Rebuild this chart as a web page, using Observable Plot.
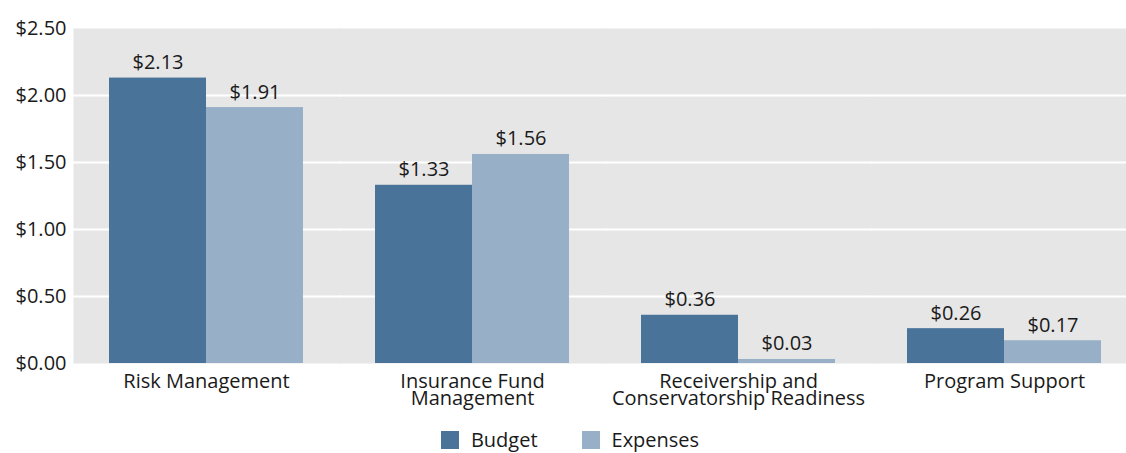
<!DOCTYPE html>
<html>
<head>
<meta charset="utf-8">
<script src="https://cdn.jsdelivr.net/npm/d3@7"></script>
<script src="https://cdn.jsdelivr.net/npm/@observablehq/plot@0.6"></script>
<style>
  html, body { margin: 0; padding: 0; background: white; overflow: hidden; }
  #chart { width: 1126px; }
  #legend { width: 1126px; display: flex; justify-content: center; padding-left: 58px; margin-top: 5px; box-sizing: border-box; }
  #legend > * { margin: 0 !important; }
  #legend span { margin-right: 44px !important; }
  #legend span svg { margin-right: 12px !important; }
</style>
</head>
<body>
<div id="chart"></div>
<div id="legend"></div>
<script>
const categories = ["Risk Management", "Insurance Fund Management", "Receivership and Conservatorship Readiness", "Program Support"];
const categoryLabels = ["Risk Management", "Insurance Fund\nManagement", "Receivership and\nConservatorship Readiness", "Program Support"];
const series = ["Budget", "Expenses"];
const budget = [2.13, 1.33, 0.36, 0.26];
const expenses = [1.91, 1.56, 0.03, 0.17];
const yTicks = [0, 0.5, 1, 1.5, 2, 2.5];
const gridValues = [0.5, 1, 1.5, 2];
const colors = ["#4a7399", "#98b0c7"];

const rows = [];
categories.forEach((c, i) => {
  rows.push({category: c, series: "Budget", value: budget[i]});
  rows.push({category: c, series: "Expenses", value: expenses[i]});
});
const catRows = categories.map((c, i) => ({category: c, label: categoryLabels[i]}));
const fmt = d => "$" + d.toFixed(2);

const plot = Plot.plot({
  width: 1126,
  height: 418,
  marginLeft: 72,
  marginRight: -12,
  marginTop: 28,
  marginBottom: 55,
  style: {fontFamily: "'Open Sans', sans-serif", fontSize: "20px", color: "#1a1a1a", background: "transparent"},
  fx: {domain: categories, padding: 0, axis: null, label: null},
  x: {domain: series, paddingInner: 0, paddingOuter: 0.37, axis: null},
  y: {domain: [0, 2.5], ticks: yTicks, tickFormat: fmt, tickSize: 0, tickPadding: 7, label: null},
  color: {domain: series, range: colors},
  marks: [
    Plot.frame({fill: "#e6e6e6", stroke: null, insetRight: -1.5}),
    Plot.ruleY(gridValues, {stroke: "white", strokeWidth: 2, insetRight: -1.5}),
    Plot.barY(rows, {fx: "category", x: "series", y: "value", fill: "series"}),
    Plot.text(rows, {fx: "category", x: "series", y: "value", text: d => fmt(d.value), lineAnchor: "bottom", dy: -9, fill: "#1a1a1a", fontSize: 20}),
    Plot.text(catRows, {fx: "category", text: "label", frameAnchor: "bottom", lineAnchor: "top", dy: 12, lineHeight: 0.86, fill: "#1a1a1a", fontSize: 20})
  ]
});
document.getElementById("chart").appendChild(plot);

const legend = Plot.legend({
  color: {domain: series, range: colors},
  swatchSize: 18,
  style: {fontFamily: "'Open Sans', sans-serif", fontSize: "20px", color: "#1a1a1a"}
});
document.getElementById("legend").appendChild(legend);
</script>
</body>
</html>
